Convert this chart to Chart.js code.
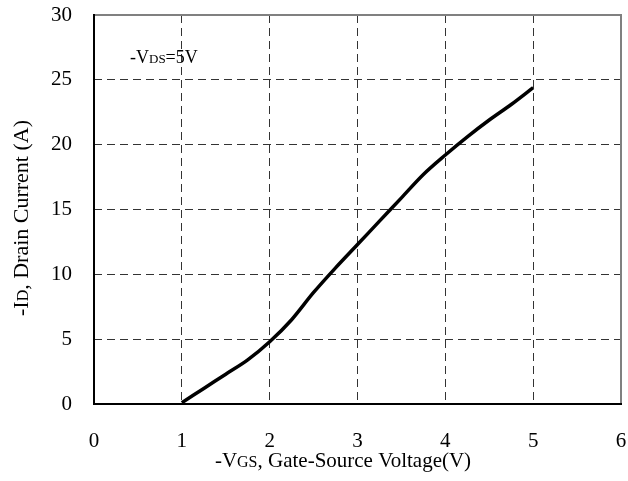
<!DOCTYPE html>
<html>
<head>
<meta charset="utf-8">
<script src="https://cdn.jsdelivr.net/npm/chart.js@4"></script>
<style>
  html, body { margin: 0; padding: 0; background: #fff; }
  #wrap { width: 628px; height: 481px; position: relative; }
</style>
</head>
<body>
<div id="wrap"><canvas id="chart" width="628" height="481"></canvas></div>
<script>
// -VGS (V) vs -ID (A)
const vgs = [1, 1.25, 1.5, 1.75, 2, 2.25, 2.5, 2.75, 3, 3.25, 3.5, 3.75, 4, 4.25, 4.5, 4.75, 5];
const drainCurrent = [0.1, 1.2, 2.3, 3.4, 4.8, 6.5, 8.6, 10.5, 12.3, 14.1, 15.9, 17.7, 19.2, 20.6, 21.9, 23.1, 24.4];

const xTicks = [0, 1, 2, 3, 4, 5, 6];
const yTicks = [0, 5, 10, 15, 20, 25, 30];

const xTitle = [["-V", 21], ["GS", 16], [", Gate-Source Voltage(V)", 21]];
const yTitle = [["-I", 22], ["D", 16], [", Drain Current (A)", 22]];
const note = [["-V", 18], ["DS", 13], ["=5V", 18]];

const FONT = "'Liberation Serif', 'Times New Roman', serif";

function richWidth(ctx, segs) {
  let w = 0;
  segs.forEach(([t, s]) => {
    ctx.font = s + "px " + FONT;
    w += ctx.measureText(t).width;
  });
  return w;
}

function drawRich(ctx, segs, x, y) {
  let cx = x;
  segs.forEach(([t, s]) => {
    ctx.font = s + "px " + FONT;
    ctx.fillText(t, cx, y);
    cx += ctx.measureText(t).width;
  });
}

const textPlugin = {
  id: "textPlugin",
  afterDraw(chart) {
    const { ctx, chartArea: a } = chart;
    ctx.save();

    // frame: top/right grey, left/bottom black
    ctx.lineWidth = 2;
    ctx.strokeStyle = "#808080";
    ctx.beginPath();
    ctx.moveTo(a.left, a.top);
    ctx.lineTo(a.right, a.top);
    ctx.lineTo(a.right, a.bottom);
    ctx.stroke();
    ctx.strokeStyle = "#000";
    ctx.beginPath();
    ctx.moveTo(a.left, a.top - 1);
    ctx.lineTo(a.left, a.bottom);
    ctx.lineTo(a.right + 1, a.bottom);
    ctx.stroke();

    ctx.fillStyle = "#000";
    ctx.textBaseline = "alphabetic";
    ctx.textAlign = "left";

    // x axis title
    const xw = richWidth(ctx, xTitle);
    drawRich(ctx, xTitle, 343 - xw / 2, 467);

    // y axis title (rotated)
    const yw = richWidth(ctx, yTitle);
    ctx.save();
    ctx.translate(28, 218);
    ctx.rotate(-Math.PI / 2);
    drawRich(ctx, yTitle, -yw / 2, 0);
    ctx.restore();

    // condition note
    drawRich(ctx, note, 130, 63);

    ctx.restore();
  }
};

const gridColor = (ctx) =>
  ctx.tick && (ctx.index === 0 || ctx.index === ctx.chart.scales[ctx.scale.id].ticks.length - 1)
    ? "rgba(0,0,0,0)" : "#333";

new Chart(document.getElementById("chart"), {
  type: "scatter",
  data: {
    datasets: [{
      data: vgs.map((v, i) => ({ x: v, y: drainCurrent[i] })),
      showLine: true,
      borderColor: "#000",
      borderWidth: 3.5,
      pointRadius: 0,
      cubicInterpolationMode: "monotone",
      fill: false,
    }],
  },
  options: {
    responsive: false,
    animation: false,
    devicePixelRatio: 1,
    layout: { padding: { top: 15, right: 7, left: 0, bottom: 0 } },
    plugins: { legend: { display: false }, tooltip: { enabled: false } },
    scales: {
      x: {
        type: "linear",
        min: 0,
        max: 6,
        afterBuildTicks: (s) => { s.ticks = xTicks.map((v) => ({ value: v })); },
        afterFit: (s) => {
          s.height = 77;
          s.paddingLeft = 0;
          s.paddingRight = 0;
        },
        ticks: {
          color: "#000",
          padding: 25,
          font: { family: FONT, size: 21 },
        },
        grid: {
          color: gridColor,
          lineWidth: 1,
          drawTicks: false,
        },
        border: { display: false, dash: [8, 5] },
      },
      y: {
        type: "linear",
        min: 0,
        max: 30,
        afterBuildTicks: (s) => { s.ticks = yTicks.map((v) => ({ value: v })); },
        afterFit: (s) => {
          s.width = 94;
          s.paddingTop = 0;
          s.paddingBottom = 0;
        },
        ticks: {
          color: "#000",
          padding: 22,
          font: { family: FONT, size: 21 },
        },
        grid: {
          color: gridColor,
          lineWidth: 1,
          drawTicks: false,
        },
        border: { display: false, dash: [8, 5] },
      },
    },
  },
  plugins: [textPlugin],
});
</script>
</body>
</html>
